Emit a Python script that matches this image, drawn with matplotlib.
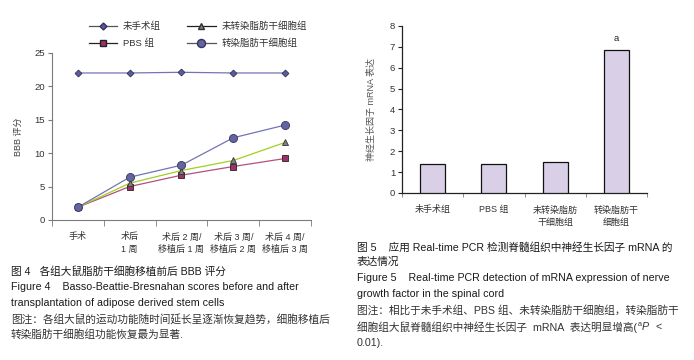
import matplotlib
matplotlib.use('Agg')
import matplotlib.pyplot as plt
from matplotlib.lines import Line2D

plt.rcParams['font.family'] = ['Liberation Sans', 'Noto Sans CJK SC', 'DejaVu Sans']

# ---------------- data: Figure 4 (BBB score) ----------------
weeks = ['手术', '术后\n1 周', '术后 2 周/\n移植后 1 周', '术后 3 周/\n移植后 2 周', '术后 4 周/\n移植后 3 周']
sham = [22.0, 22.0, 22.1, 22.0, 22.0]
pbs = [1.9, 5.0, 6.7, 8.0, 9.2]
untrans = [1.9, 5.5, 7.4, 8.9, 11.6]
trans = [1.9, 6.4, 8.2, 12.3, 14.2]
line_names = ['未手术组', 'PBS 组', '未转染脂肪干细胞组', '转染脂肪干细胞组']

# ---------------- data: Figure 5 (NGF mRNA) ----------------
groups = ['未手术组', 'PBS 组', '未转染脂肪\n干细胞组', '转染脂肪干\n细胞组']
ngf = [1.4, 1.4, 1.5, 6.85]
sig = ['', '', '', 'a']

fig = plt.figure(figsize=(6.94, 3.6), dpi=100)
axc = '#7a7a7a'

# ---------------- left chart ----------------
ax1 = fig.add_axes([0.0749, 0.389, 0.3732, 0.464])
x = range(len(weeks))
ax1.plot(x, sham, color='#7474b4', lw=0.9, marker='D', ms=3.5, mfc='#5c5c98', mec='#30305a', mew=0.6, zorder=3)
ax1.plot(x, pbs, color='#b4507e', lw=0.9, marker='s', ms=4.5, mfc='#a03068', mec='#222', mew=0.6, zorder=3)
ax1.plot(x, untrans, color='#a0d020', lw=0.9, marker='^', ms=4.5, mfc='#7f7f7f', mec='#333', mew=0.6, zorder=4)
ax1.plot(x, trans, color='#7474b4', lw=0.9, marker='o', ms=5.8, mfc='#6464a0', mec='#34345c', mew=0.6, zorder=5)

ax1.set_xlim(-0.5, 4.5)
ax1.set_ylim(0, 25)
ax1.set_yticks([0, 5, 10, 15, 20, 25])
ax1.set_xticks(list(x))
ax1.set_xticklabels(weeks, fontsize=6.5, color='#333', linespacing=1.5)
ax1.set_xticks([i - 0.5 for i in range(len(weeks) + 1)], minor=True)
ax1.tick_params(axis='x', which='major', length=0, pad=9)
ax1.tick_params(axis='x', which='minor', length=4, color=axc, direction='out')
ax1.tick_params(axis='y', length=3, color=axc, labelsize=6.8, labelcolor='#333', pad=2)
for s in ['top', 'right']:
    ax1.spines[s].set_visible(False)
for s in ['left', 'bottom']:
    ax1.spines[s].set_color(axc)
    ax1.spines[s].set_linewidth(0.8)
ax1.set_ylabel('BBB 评分', fontsize=6.5, color='#444', labelpad=8)

handles = [
    Line2D([], [], color='#555', lw=0.9, marker='D', ms=3.5, mfc='#5c5c98', mec='#30305a'),
    Line2D([], [], color='#222', lw=0.9, marker='s', ms=4.5, mfc='#a03068', mec='#222'),
    Line2D([], [], color='#222', lw=0.9, marker='^', ms=4.5, mfc='#7f7f7f', mec='#333'),
    Line2D([], [], color='#555', lw=0.9, marker='o', ms=5.8, mfc='#6464a0', mec='#34345c'),
]
fig.legend(handles, line_names, ncol=2, loc='center', bbox_to_anchor=(0.285, 0.903),
           frameon=False, fontsize=6.8, handlelength=3.0, columnspacing=2.8,
           handletextpad=0.6, labelspacing=0.75, labelcolor='#333')

# ---------------- right chart ----------------
ax2 = fig.add_axes([0.5793, 0.464, 0.353, 0.464])
xb = range(len(groups))
bars = ax2.bar(xb, ngf, width=0.41, color='#d9cfe6', edgecolor='#111', linewidth=0.9, zorder=3)
for b, s in zip(bars, sig):
    if s:
        ax2.text(b.get_x() + b.get_width() / 2, b.get_height() + 0.35, s,
                 ha='center', va='bottom', fontsize=6.8, color='#222')
ax2.set_xlim(-0.5, 3.5)
ax2.set_ylim(0, 8)
ax2.set_yticks(range(9))
ax2.set_xticks(list(xb))
ax2.set_xticklabels(groups, fontsize=6.5, color='#333', linespacing=1.5)
ax2.set_xticks([i - 0.5 for i in range(len(groups) + 1)], minor=True)
ax2.tick_params(axis='x', which='major', length=0, pad=9)
ax2.tick_params(axis='x', which='minor', length=3, color=axc, direction='out')
ax2.tick_params(axis='y', length=3, color='#222', labelsize=6.8, labelcolor='#333', pad=2)
for s in ['top', 'right']:
    ax2.spines[s].set_visible(False)
for s in ['left', 'bottom']:
    ax2.spines[s].set_color('#222')
    ax2.spines[s].set_linewidth(0.9)
ax2.set_ylabel('神经生长因子 mRNA 表达', fontsize=6.5, color='#555', labelpad=10)

# ---------------- captions ----------------
FS = 7.7


def cap(xp, yp, s, col='#1a1a1a', **kw):
    return fig.text(xp / 694, 1 - yp / 360, s, ha='left', va='center', fontsize=kw.pop('size', FS),
                    color=col, **kw)


cap(11, 271, '图 4   各组大鼠脂肪干细胞移植前后 BBB 评分')
cap(11, 287, 'Figure 4    Basso-Beattie-Bresnahan scores before and after')
cap(11, 303, 'transplantation of adipose derived stem cells')
cap(11, 319, '图注：各组大鼠的运动功能随时间延长呈逐渐恢复趋势，细胞移植后', '#333')
cap(11, 335, '转染脂肪干细胞组功能恢复最为显著.', '#333')

cap(357, 247, '图 5    应用 Real-time PCR 检测脊髓组织中神经生长因子 mRNA 的')
cap(357, 262, '表达情况')
cap(357, 278, 'Figure 5    Real-time PCR detection of mRNA expression of nerve')
cap(357, 294, 'growth factor in the spinal cord')
cap(357, 310, '图注：相比于未手术组、PBS 组、未转染脂肪干细胞组，转染脂肪干', '#333')

# line with superscript "a" and italic P, drawn piecewise
r = fig.canvas.get_renderer()
t1 = cap(357, 327, '细胞组大鼠脊髓组织中神经生长因子  mRNA  表达明显增高(', '#333')
x1 = t1.get_window_extent(r).x1
t2 = cap(x1 + 0.5, 324, 'a', '#333', size=5.2)
x2 = t2.get_window_extent(r).x1
cap(x2 + 0.3, 327, 'P', '#333', style='italic')
cap(x2 + 8, 327, '  <', '#333')
cap(357, 343, '0.01).', '#333')

fig.savefig('out.png', dpi=100)
